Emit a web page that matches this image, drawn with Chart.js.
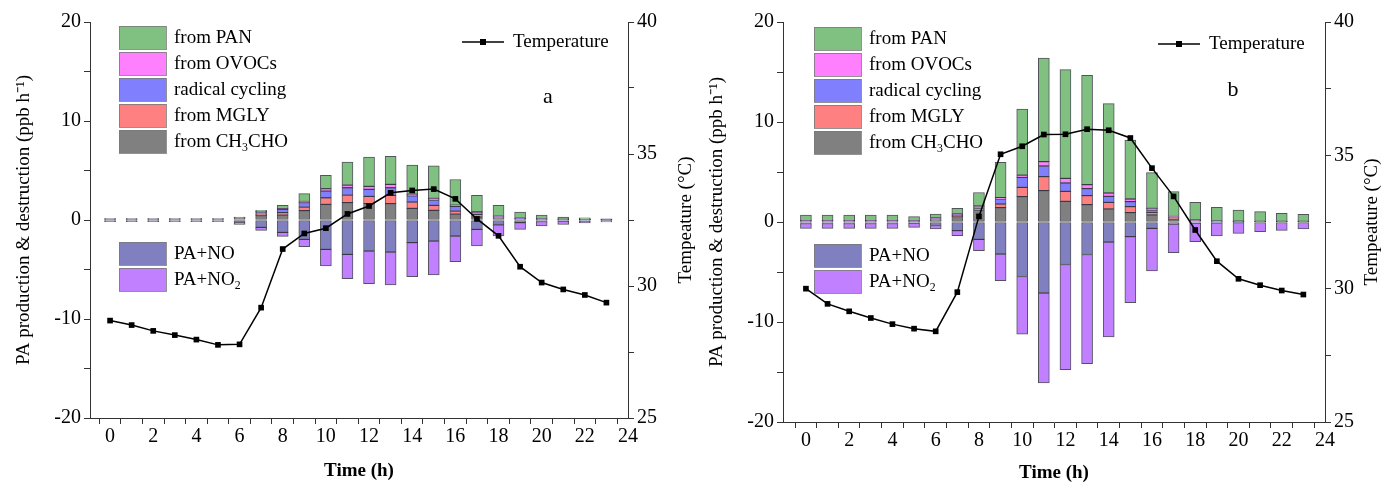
<!DOCTYPE html>
<html>
<head>
<meta charset="utf-8">
<script src="https://cdn.jsdelivr.net/npm/chart.js@4.4.1/dist/chart.umd.min.js"></script>
<style>
  html, body { margin: 0; padding: 0; background: #fff; }
  #wrap { position: relative; width: 1390px; height: 490px; overflow: hidden; }
  #boxA { position: absolute; left: 0; top: 0; width: 700px; height: 490px; }
  #boxB { position: absolute; left: 695px; top: 0; width: 695px; height: 490px; }
</style>
</head>
<body>
<div id="wrap">
  <div id="boxA"><canvas id="chartA" width="700" height="490"></canvas></div>
  <div id="boxB"><canvas id="chartB" width="695" height="490"></canvas></div>
</div>
<script>
// ---- data ----
const hours = [0,1,2,3,4,5,6,7,8,9,10,11,12,13,14,15,16,17,18,19,20,21,22,23];

// panel a
const a_CH3CHO  = [0.08,0.08,0.08,0.08,0.08,0.08,0.15,0.45,0.5,0.95,1.58,1.75,1.65,1.65,1.18,0.98,0.6,0.3,0.2,0.08,0.05,0.04,0.03,0.02];
const a_MGLY    = [0.01,0.01,0.01,0.01,0.01,0.01,0.05,0.15,0.24,0.35,0.67,0.77,0.74,0.84,0.64,0.5,0.3,0.27,0.05,0.03,0.02,0.01,0.01,0.01];
const a_radical = [0.01,0.01,0.01,0.01,0.01,0.01,0.05,0.2,0.34,0.45,0.67,0.74,0.71,0.77,0.61,0.54,0.47,0.17,0.1,0.05,0.03,0.02,0.02,0.01];
const a_OVOCs   = [0.01,0.01,0.01,0.01,0.01,0.01,0.02,0.05,0.07,0.12,0.24,0.27,0.3,0.34,0.17,0.17,0.13,0.1,0.03,0.02,0.02,0.01,0.01,0.01];
const a_PAN     = [0.04,0.04,0.04,0.04,0.04,0.04,0.03,0.13,0.34,0.8,1.35,2.32,2.96,2.83,2.96,3.27,2.59,1.65,1.1,0.63,0.37,0.22,0.15,0.06];
const a_PANO    = [-0.12,-0.12,-0.12,-0.12,-0.12,-0.12,-0.3,-0.75,-1.25,-1.95,-2.96,-3.47,-3.13,-3.23,-2.29,-2.12,-1.62,-0.94,-0.5,-0.27,-0.15,-0.12,-0.1,-0.08];
const a_PANO2   = [-0.06,-0.06,-0.06,-0.06,-0.06,-0.06,-0.14,-0.29,-0.4,-0.74,-1.68,-2.46,-3.3,-3.33,-3.43,-3.43,-2.59,-1.68,-1.1,-0.67,-0.45,-0.33,-0.2,-0.12];
const a_temp    = [28.69,28.52,28.3,28.14,27.97,27.77,27.79,29.18,31.4,31.99,32.19,32.73,33.03,33.53,33.62,33.67,33.3,32.54,31.9,30.73,30.13,29.87,29.66,29.37];

// panel b
const b_CH3CHO  = [0.08,0.08,0.08,0.08,0.08,0.06,0.2,0.53,1.2,1.43,2.53,3.13,2.07,1.73,1.3,0.93,0.7,0.3,0.1,0.05,0.04,0.04,0.03,0.03];
const b_MGLY    = [0.02,0.02,0.02,0.02,0.02,0.02,0.05,0.1,0.15,0.37,0.93,1.4,1.0,0.9,0.67,0.6,0.27,0.1,0.04,0.02,0.01,0.01,0.01,0.01];
const b_radical = [0.02,0.02,0.02,0.02,0.02,0.02,0.1,0.1,0.2,0.5,1.0,1.07,0.83,0.7,0.6,0.5,0.23,0.1,0.04,0.02,0.02,0.01,0.01,0.01];
const b_OVOCs   = [0.01,0.01,0.01,0.01,0.01,0.01,0.05,0.07,0.07,0.13,0.23,0.43,0.47,0.4,0.33,0.27,0.17,0.05,0.02,0.01,0.01,0.01,0.01,0.01];
const b_PAN     = [0.57,0.57,0.57,0.57,0.57,0.42,0.4,0.57,1.33,3.54,6.6,10.35,10.86,10.94,8.93,5.9,3.56,2.48,1.77,1.37,1.12,0.96,0.81,0.71];
const b_PANO    = [-0.15,-0.15,-0.15,-0.15,-0.15,-0.12,-0.35,-0.87,-1.73,-3.2,-5.45,-7.1,-4.25,-3.25,-2.0,-1.47,-0.63,-0.2,-0.1,-0.08,-0.06,-0.05,-0.05,-0.05];
const b_PANO2   = [-0.48,-0.48,-0.48,-0.48,-0.48,-0.41,-0.35,-0.5,-1.13,-2.67,-5.77,-9.0,-10.52,-10.92,-9.5,-6.6,-4.27,-2.87,-1.87,-1.32,-1.07,-0.92,-0.78,-0.65];
const b_temp    = [30.0,29.43,29.15,28.9,28.67,28.5,28.4,29.87,32.71,35.04,35.34,35.78,35.79,35.98,35.94,35.65,34.52,33.46,32.2,31.03,30.37,30.13,29.93,29.78];

// ---- styling ----
const FONT = '"Liberation Serif", "Times New Roman", serif';
const COL = {
  CH3CHO: 'rgb(128,128,128)',
  MGLY: 'rgb(255,128,128)',
  radical: 'rgb(128,128,255)',
  OVOCs: 'rgb(255,128,255)',
  PAN: 'rgb(128,192,128)',
  PANO: 'rgb(128,128,192)',
  PANO2: 'rgb(192,128,255)'
};
const EDGE = 'rgba(25,25,40,0.75)';

function pts(arr) {
  return hours.map((h, i) => ({ x: h, y: arr[i] }));
}

function bar(label, arr, color) {
  return {
    type: 'bar', label, data: pts(arr), stack: 's', order: 1,
    backgroundColor: color, borderColor: EDGE, borderWidth: 1,
    barThickness: 11, borderSkipped: false
  };
}

// draws one legend label, handling a subscript part
function drawRich(ctx, parts, x, y, size) {
  let cx = x;
  parts.forEach(p => {
    const s = p.sub ? size * 0.62 : size;
    ctx.font = `${s}px ${FONT}`;
    ctx.fillText(p.t, cx, p.sub ? y + size * 0.32 : y);
    cx += ctx.measureText(p.t).width;
  });
}

const legendPlugin = {
  id: 'panelLegend',
  afterDraw(chart, args, o) {
    const ctx = chart.ctx;
    ctx.save();
    ctx.textBaseline = 'middle';
    ctx.textAlign = 'left';
    ctx.fillStyle = '#000';
    // box legends
    o.boxes.forEach(b => {
      ctx.fillStyle = b.color;
      ctx.fillRect(b.x, b.y, 47, 23);
      ctx.strokeStyle = 'rgba(120,120,120,0.8)';
      ctx.lineWidth = 1;
      ctx.strokeRect(b.x + 0.5, b.y + 0.5, 47, 23);
      ctx.fillStyle = '#000';
      drawRich(ctx, b.parts, b.x + 55, b.y + 12, 19);
    });
    // temperature legend
    const t = o.temp;
    ctx.strokeStyle = '#000';
    ctx.lineWidth = 1.5;
    ctx.beginPath();
    ctx.moveTo(t.x, t.y);
    ctx.lineTo(t.x + 42, t.y);
    ctx.stroke();
    ctx.fillRect(t.x + 18, t.y - 3, 6, 6);
    ctx.font = `19px ${FONT}`;
    ctx.fillText('Temperature', t.x + 51, t.y);
    // panel letter
    ctx.font = `22px ${FONT}`;
    ctx.textAlign = 'center';
    ctx.fillText(o.letter.t, o.letter.x, o.letter.y);
    // right axis title, reading bottom to top
    const area = chart.chartArea;
    ctx.translate(o.rightTitleX, (area.top + area.bottom) / 2);
    ctx.rotate(-Math.PI / 2);
    ctx.font = `19px ${FONT}`;
    ctx.fillText('Tempeature (\u00B0C)', 0, 0);
    ctx.restore();
  }
};

function legendBoxes(topY, negY) {
  return [
    { color: COL.PAN, y: topY, parts: [{ t: 'from PAN' }] },
    { color: COL.OVOCs, y: topY + 26, parts: [{ t: 'from OVOCs' }] },
    { color: COL.radical, y: topY + 52, parts: [{ t: 'radical cycling' }] },
    { color: COL.MGLY, y: topY + 78, parts: [{ t: 'from MGLY' }] },
    { color: COL.CH3CHO, y: topY + 104, parts: [{ t: 'from CH' }, { t: '3', sub: true }, { t: 'CHO' }] },
    { color: COL.PANO, y: negY, parts: [{ t: 'PA+NO' }] },
    { color: COL.PANO2, y: negY + 26, parts: [{ t: 'PA+NO' }, { t: '2', sub: true }] }
  ].map(b => Object.assign({ x: 119 }, b));
}

function makePanel(id, d, L) {
  const tickFont = { family: FONT, size: 20 };
  const titleFont = { family: FONT, size: 19 };
  return new Chart(document.getElementById(id), {
    data: {
      datasets: [
        {
          type: 'line', label: 'Temperature', data: pts(d.temp), yAxisID: 'y1', order: 0,
          borderColor: '#000', borderWidth: 1.5, tension: 0,
          pointStyle: 'rect', pointRadius: 4, pointBackgroundColor: '#000', pointBorderWidth: 0
        },
        bar('from CH3CHO', d.CH3CHO, COL.CH3CHO),
        bar('from MGLY', d.MGLY, COL.MGLY),
        bar('radical cycling', d.radical, COL.radical),
        bar('from OVOCs', d.OVOCs, COL.OVOCs),
        bar('from PAN', d.PAN, COL.PAN),
        bar('PA+NO', d.PANO, COL.PANO),
        bar('PA+NO2', d.PANO2, COL.PANO2)
      ]
    },
    options: {
      responsive: false,
      animation: false,
      layout: { padding: { top: 22, left: 0, right: 0, bottom: 0 } },
      plugins: {
        legend: { display: false },
        tooltip: { enabled: false },
        panelLegend: L.legend
      },
      scales: {
        x: {
          type: 'linear', min: L.xMin, max: 24, stacked: true, offset: false,
          afterFit: s => { s.height = L.xH; },
          border: { color: '#333', width: 1 },
          grid: { drawOnChartArea: false, tickLength: 6, color: '#333' },
          ticks: {
            stepSize: 1, includeBounds: false, autoSkip: false, maxRotation: 0,
            color: '#000', font: tickFont, padding: 1,
            callback: v => (v % 2 === 0 ? String(v) : '')
          },
          title: {
            display: true, text: 'Time (h)', color: '#000',
            font: { family: FONT, size: 19, weight: 'bold' },
            padding: { top: 0, bottom: L.xTitlePad }
          }
        },
        y: {
          position: 'left', min: -20, max: 20, stacked: true,
          afterFit: s => { s.width = L.yW; },
          border: { color: '#333', width: 1 },
          grid: { drawOnChartArea: false, tickLength: 6, color: '#333' },
          ticks: {
            stepSize: 5, color: '#000', font: tickFont, padding: 3,
            callback: v => (v % 10 === 0 ? String(v) : '')
          },
          title: {
            display: true, text: 'PA production & destruction (ppb h\u207B\u00B9)', color: '#000',
            font: titleFont, padding: { top: L.yTitlePad, bottom: 0 }
          }
        },
        y1: {
          position: 'right', min: 25, max: 40, stacked: false,
          afterFit: s => { s.width = L.y1W; },
          border: { color: '#333', width: 1 },
          grid: { drawOnChartArea: false, tickLength: 6, color: '#333' },
          ticks: {
            stepSize: 2.5, color: '#000', font: tickFont, padding: 3,
            callback: v => (v % 5 === 0 ? String(v) : '')
          }
        }
      }
    },
    plugins: [legendPlugin]
  });
}

makePanel('chartA',
  { CH3CHO: a_CH3CHO, MGLY: a_MGLY, radical: a_radical, OVOCs: a_OVOCs, PAN: a_PAN, PANO: a_PANO, PANO2: a_PANO2, temp: a_temp },
  {
    xMin: -0.93, xH: 72, xTitlePad: 8, yW: 90, y1W: 72, yTitlePad: 13,
    legend: {
      boxes: legendBoxes(26, 242),
      temp: { x: 462, y: 42 },
      letter: { t: 'a', x: 548, y: 97 },
      rightTitleX: 686
    }
  });

makePanel('chartB',
  { CH3CHO: b_CH3CHO, MGLY: b_MGLY, radical: b_radical, OVOCs: b_OVOCs, PAN: b_PAN, PANO: b_PANO, PANO2: b_PANO2, temp: b_temp },
  {
    xMin: -1.06, xH: 68, xTitlePad: 6, yW: 88, y1W: 65, yTitlePad: 11,
    legend: {
      boxes: legendBoxes(27, 244),
      temp: { x: 463, y: 44 },
      letter: { t: 'b', x: 538, y: 90 },
      rightTitleX: 677
    }
  });
</script>
</body>
</html>
